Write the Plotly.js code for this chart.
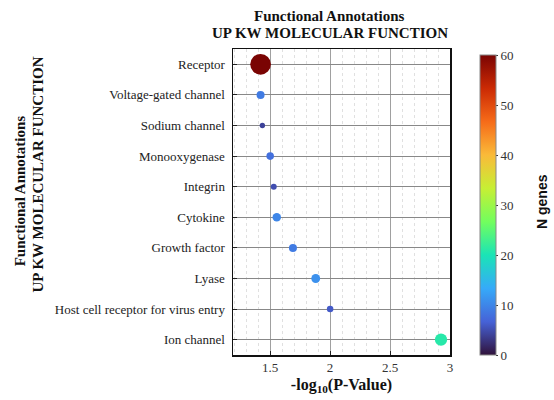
<!DOCTYPE html>
<html>
<head>
<meta charset="utf-8">
<script src="https://cdn.plot.ly/plotly-3.0.1.min.js"></script>
<style>html,body{margin:0;padding:0;background:#fff;}#chart{width:554px;height:400px;}</style>
</head>
<body>
<div id="chart"></div>
<script>
// Data
const categories = ["Receptor", "Voltage-gated channel", "Sodium channel", "Monooxygenase", "Integrin",
  "Cytokine", "Growth factor", "Lyase", "Host cell receptor for virus entry", "Ion channel"];
const negLogP = [1.42, 1.42, 1.435, 1.50, 1.53, 1.555, 1.69, 1.88, 2.00, 2.925];
const nGenes = [60, 9, 4, 8, 5, 10, 9, 11, 6, 21];
const colorbarTicks = [0, 10, 20, 30, 40, 50, 60];
const xTicks = [1.5, 2, 2.5, 3];
const xTickLabels = ["1.5", "2", "2.5", "3"];

const turbo = [
  [0.000, "#30123b"], [0.111, "#4662d7"], [0.222, "#36aaf9"], [0.333, "#1ae4b6"],
  [0.444, "#72fe5e"], [0.556, "#c7ef34"], [0.667, "#faba39"], [0.778, "#f66b19"],
  [0.889, "#cb2a04"], [1.000, "#7a0403"]
];

const serif = "Liberation Serif, Times New Roman, serif";

const trace = {
  type: "scatter",
  mode: "markers",
  x: negLogP,
  y: categories,
  marker: {
    size: nGenes,
    sizemode: "area",
    sizeref: 0.28,
    color: nGenes,
    cmin: 0,
    cmax: 60,
    colorscale: turbo,
    line: {width: 0},
    opacity: 1,
    colorbar: {
      thickness: 16,
      lenmode: "pixels",
      len: 300,
      yanchor: "bottom",
      y: 0,
      x: 1.138,
      xanchor: "left",
      xpad: 0,
      ypad: 0,
      outlinewidth: 1,
      outlinecolor: "#888",
      tickvals: colorbarTicks,
      ticks: "outside",
      ticklen: 2,
      tickcolor: "#333",
      tickfont: {family: serif, size: 13, color: "#333"}
    }
  },
  hoverinfo: "x+y"
};

const layout = {
  width: 554,
  height: 400,
  margin: {l: 233, r: 104, t: 49, b: 45},
  paper_bgcolor: "#fff",
  plot_bgcolor: "#fff",
  showlegend: false,
  xaxis: {
    range: [1.19, 3.0],
    tickvals: xTicks,
    ticktext: xTickLabels,
    ticks: "inside",
    ticklen: 4,
    tickcolor: "#222",
    tickfont: {family: serif, size: 13, color: "#333"},
    showgrid: true,
    gridcolor: "#a0a0a0",
    gridwidth: 1,
    minor: {dtick: 0.1, showgrid: true, gridcolor: "#e0e0e0", griddash: "dot", gridwidth: 1},
    zeroline: false,
    showline: true,
    mirror: true,
    linecolor: "#111",
    linewidth: 1.5,
    title: {text: "<b>-log<sub>10</sub>(P-Value)</b>", font: {family: serif, size: 16, color: "#111"}, standoff: 4}
  },
  yaxis: {
    type: "category",
    autorange: false,
    range: [9.5, -0.5],
    ticks: "inside",
    ticklen: 4,
    tickcolor: "#222",
    tickfont: {family: serif, size: 13, color: "#222"},
    showgrid: true,
    gridcolor: "#888",
    gridwidth: 1,
    zeroline: false,
    showline: true,
    mirror: true,
    linecolor: "#111",
    linewidth: 1.5,
    ticklabelstandoff: 4
  },
  annotations: [
    {text: "<b>Functional Annotations</b>", xref: "paper", yref: "paper", x: 0.447, y: 1, yshift: 33,
     xanchor: "center", yanchor: "middle", showarrow: false, font: {family: serif, size: 15, color: "#111"}},
    {text: "<b>UP KW MOLECULAR FUNCTION</b>", xref: "paper", yref: "paper", x: 0.447, y: 1, yshift: 16,
     xanchor: "center", yanchor: "middle", showarrow: false, font: {family: serif, size: 15, color: "#111"}},
    {text: "<b>Functional Annotations</b>", xref: "paper", yref: "paper", x: 0, xshift: -213, y: 0.535,
     xanchor: "center", yanchor: "middle", textangle: -90, showarrow: false, font: {family: serif, size: 15, color: "#111"}},
    {text: "<b>UP KW MOLECULAR FUNCTION</b>", xref: "paper", yref: "paper", x: 0, xshift: -195, y: 0.59,
     xanchor: "center", yanchor: "middle", textangle: -90, showarrow: false, font: {family: serif, size: 15, color: "#111"}},
    {text: "<b>N genes</b>", xref: "paper", yref: "paper", x: 1, xshift: 92, y: 0.5,
     xanchor: "center", yanchor: "middle", textangle: -90, showarrow: false,
     font: {family: "Liberation Sans, Arial, sans-serif", size: 14, color: "#111"}}
  ]
};

Plotly.newPlot("chart", [trace], layout, {displayModeBar: false, staticPlot: true});
</script>
</body>
</html>
